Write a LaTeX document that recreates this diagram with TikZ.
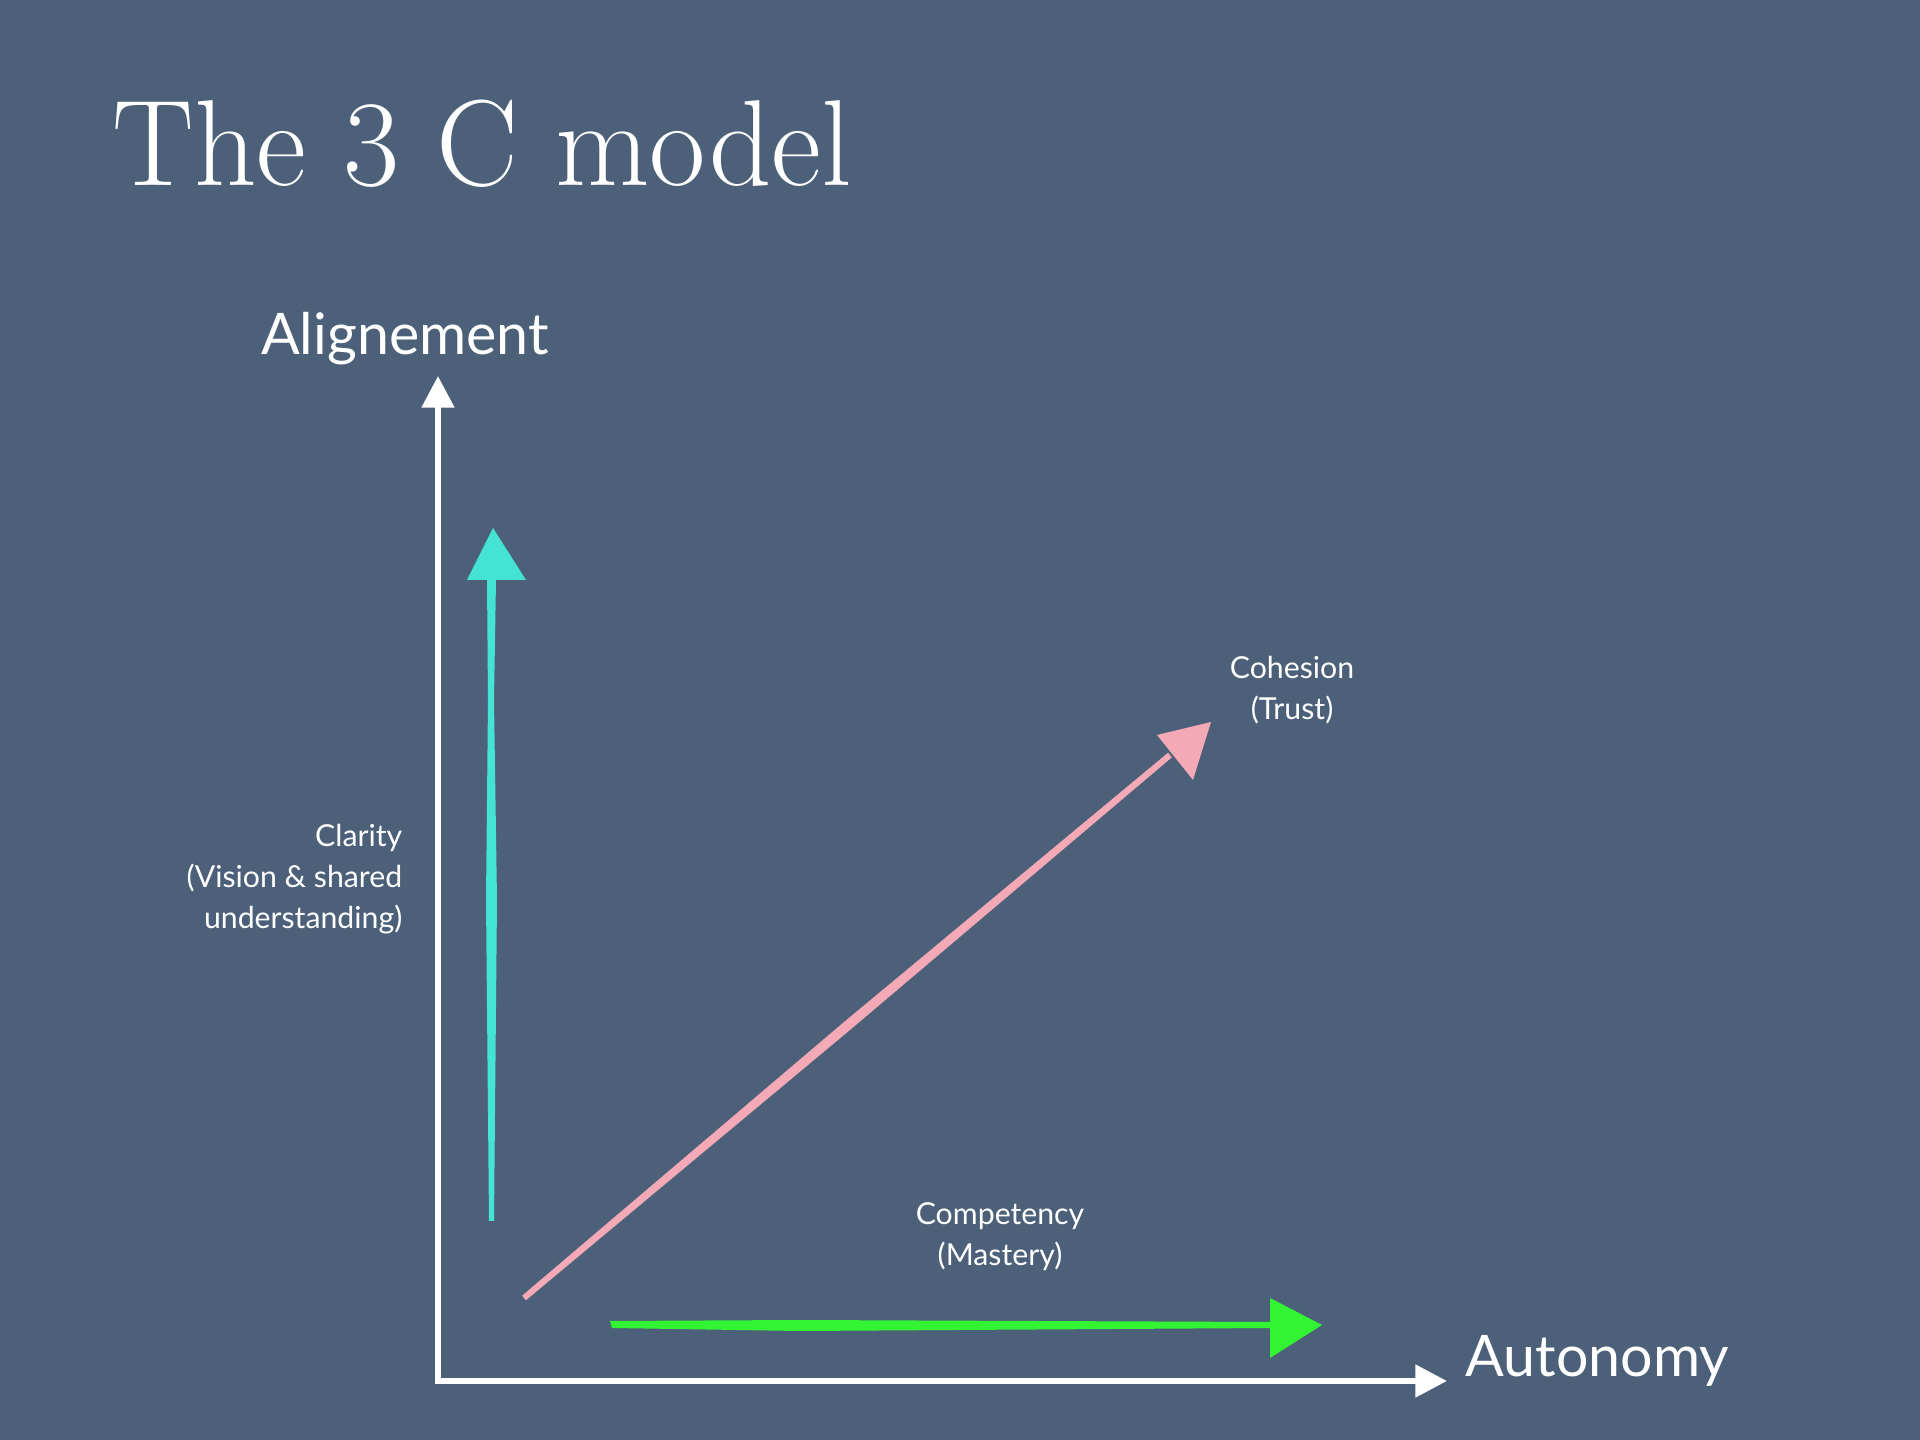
\documentclass[tikz,border=0pt]{standalone}
\usepackage{fontspec}
\newfontfamily\labelfont{Lato}
\usetikzlibrary{arrows.meta}
\definecolor{bg}{HTML}{4C6179}
\definecolor{teal}{HTML}{45E3D3}
\definecolor{pinkc}{HTML}{F4A9B6}
\definecolor{greenc}{HTML}{33F433}
\tikzset{
  axis/.style={draw=white, line width=1.7pt, -{Triangle[length=9pt,width=9pt]}},
  axlabel/.style={text=white, font=\labelfont\fontsize{16.3}{20}\selectfont, inner sep=0pt},
  smalllabel/.style={text=white, font=\labelfont\fontsize{8.6}{11.7}\selectfont, inner sep=0pt},
}
\begin{document}
\begin{tikzpicture}[x=0.01cm,y=-0.01cm]
\fill[bg] (0,0) rectangle (1920,1440);
\useasboundingbox (0,0) rectangle (1920,1440);

% title
\node[anchor=base west, text=white, inner sep=0pt, font=\fontsize{34.8}{40}\selectfont] (title) at (112,186) {The 3 C model};

% axes
\coordinate (O) at (438,1381);
\coordinate (ytip) at (438,376);
\coordinate (xtip) at (1447,1381);
\draw[axis] (O) -- (ytip);
\draw[axis] ([xshift=-0.85pt]O) -- (xtip);
\node[axlabel] (align) at (405,339) {Alignement};
\node[axlabel, anchor=west] (auto) at (1465,1361) {Autonomy};

% teal arrow (Clarity)
\coordinate (ts) at (491,1221);
\coordinate (te) at (491,579);
\fill[teal] (489,1221) -- (486,900) -- (488,700) -- (487,580) -- (496,580) -- (494,700) -- (497,900) -- (494,1221) -- cycle;
\fill[teal] (467,580) -- (493,528) -- (526,580) -- cycle;

% pink arrow (Cohesion)
\coordinate (ps) at (524,1298);
\coordinate (pe) at (1170,755);
\fill[pinkc] (522.1,1295.7) -- (843.8,1022.2) -- (1168.1,752.7) -- (1171.9,757.3) -- (850.2,1029.8) -- (525.9,1300.3) -- cycle;
\fill[pinkc] (1157,735) -- (1211,722) -- (1193,780) -- cycle;

% green arrow (Competency)
\coordinate (gs) at (610,1325);
\coordinate (ge) at (1272,1325);
\fill[greenc] (610,1321) -- (800,1320) -- (1272,1322) -- (1272,1328) -- (800,1331) -- (612,1328) -- cycle;
\fill[greenc] (1270,1298) -- (1322,1325) -- (1270,1358) -- cycle;

% labels
\node[smalllabel, anchor=east, align=right] (clar) at (403,879) {Clarity\\(Vision \& shared\\understanding)};
\node[smalllabel, align=center] (coh) at (1292,690) {Cohesion\\(Trust)};
\node[smalllabel, align=center] (comp) at (1000,1237) {Competency\\(Mastery)};
\end{tikzpicture}
\end{document}
